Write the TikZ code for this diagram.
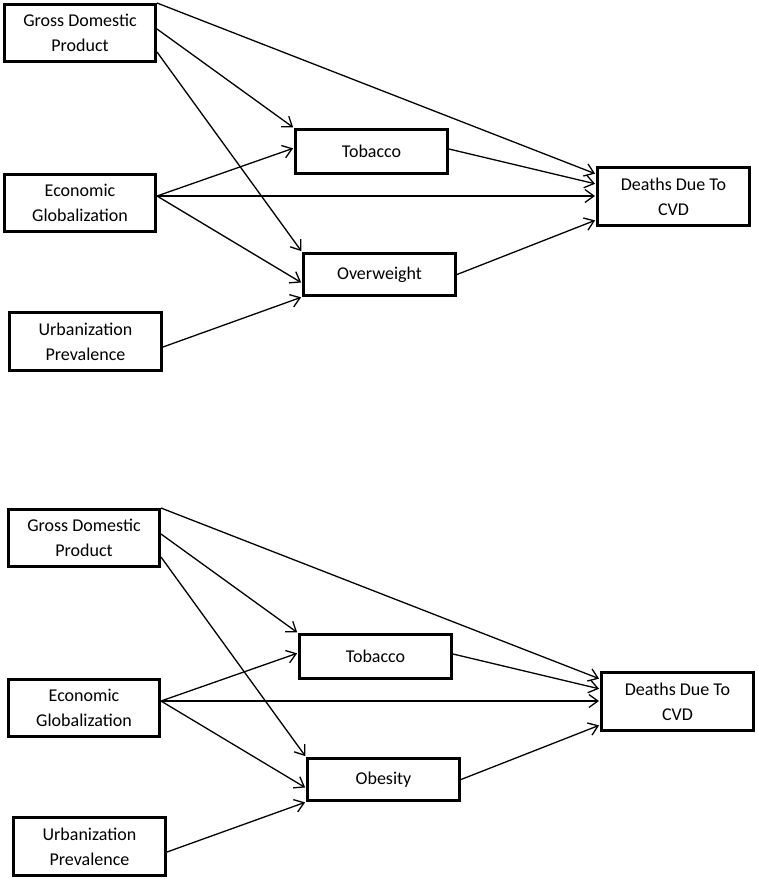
\documentclass[tikz,border=0pt]{standalone}
\usepackage{fontspec}
\setmainfont{Carlito}
\usetikzlibrary{arrows.meta}
\tikzset{
  box/.style={draw, line width=3pt, rectangle, inner sep=0pt, align=center,
    font=\fontsize{18}{25}\selectfont},
  link/.style={line width=1.3pt, shorten >=1pt,
    -{Straight Barb[length=9pt,width=13pt,line width=1.3pt]}},
}
\newcommand{\drawpanel}[1]{%
  \node[box, minimum width=151pt, minimum height=57pt] (gdp) at (80,33) {Gross Domestic\\Product};
  \node[box, minimum width=151pt, minimum height=57pt] (eg) at (80,203) {Economic\\Globalization};
  \node[box, minimum width=152pt, minimum height=58pt] (up) at (85.5,341.5) {Urbanization\\Prevalence};
  \node[box, minimum width=152pt, minimum height=44pt] (tob) at (371.5,151.5) {Tobacco};
  \node[box, minimum width=152pt, minimum height=42pt] (mid) at (379.5,274.5) {#1};
  \node[box, minimum width=152pt, minimum height=58pt] (cvd) at (673.5,196.5) {Deaths Due To\\CVD};
  \draw[link] (gdp.north east) -- ([yshift=22.5pt]cvd.west);
  \draw[link] ([yshift=4pt]gdp.east) -- (tob.north west);
  \draw[link] ([yshift=-19pt]gdp.east) -- (mid.north west);
  \draw[link] ([yshift=7pt]eg.east) -- ([yshift=3.5pt]tob.west);
  \draw[link] ([yshift=7pt]eg.east) -- ([yshift=7pt]eg.east -| cvd.west);
  \draw[link] ([yshift=7pt]eg.east) -- ([yshift=-8.5pt]mid.west);
  \draw[link] ([yshift=-5.5pt]up.east) -- (mid.south west);
  \draw[link] ([yshift=2.5pt]tob.east) -- ([yshift=12.5pt]cvd.west);
  \draw[link] (mid.east) -- ([yshift=-23.5pt]cvd.west);
}
\begin{document}
\begin{tikzpicture}[x=1pt,y=-1pt]
  \useasboundingbox (0,0) rectangle (758,879);
  \begin{scope}[name prefix=top-]
    \drawpanel{Overweight}
  \end{scope}
  \begin{scope}[shift={(4,505)}, name prefix=bot-]
    \drawpanel{Obesity}
  \end{scope}
\end{tikzpicture}
\end{document}
